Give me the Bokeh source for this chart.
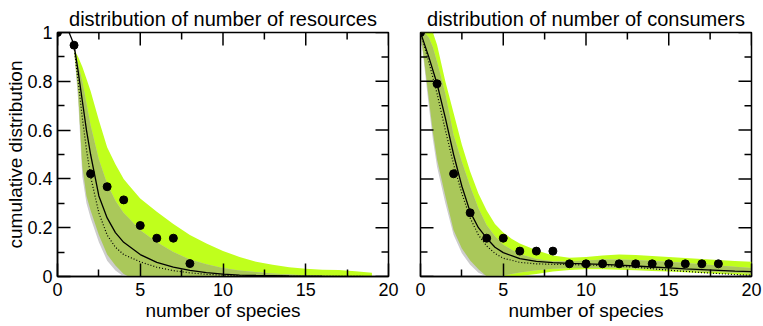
import numpy as np
from bokeh.plotting import figure
from bokeh.layouts import row
from bokeh.models import FixedTicker, Range1d
from bokeh.embed import file_html
from bokeh.resources import INLINE

# ---------------- data ----------------
titles = ["distribution of number of resources", "distribution of number of consumers"]
x_label = "number of species"
y_label = "cumulative distribution"

x_ticks = [0, 5, 10, 15, 20]
x_tick_labels = ["0", "5", "10", "15", "20"]
x_minor = [2.5, 7.5, 12.5, 17.5]
y_ticks = [0, 0.2, 0.4, 0.6, 0.8, 1.0]
y_tick_labels = ["0", "0.2", "0.4", "0.6", "0.8", "1"]
y_minor = [0.1, 0.3, 0.5, 0.7, 0.9]

# resources panel
res_pts_x = [0, 1, 2, 3, 4, 5, 6, 7, 8]
res_pts_y = [1.0, 0.948, 0.421, 0.368, 0.314, 0.209, 0.157, 0.157, 0.053]
res_band_x = [1, 1.25, 1.5, 1.75, 2, 2.5, 3, 3.5, 4, 4.3, 5, 6, 7, 8, 9, 10, 11, 12, 13, 14, 15, 16, 17, 18, 19]
res_green_hi = [0.93, 0.9, 0.86, 0.81, 0.76, 0.64, 0.53, 0.46, 0.40, 0.375, 0.32, 0.265, 0.215, 0.17, 0.135, 0.105, 0.08, 0.06, 0.048, 0.038, 0.032, 0.028, 0.027, 0.022, 0.015]
res_green_lo = [0.93, 0.75, 0.45, 0.33, 0.27, 0.17, 0.09, 0.045, 0.01, 0.0, 0, 0, 0, 0, 0, 0.002, 0.002, 0.002, 0.002, 0.002, 0.002, 0.002, 0.002, 0.002, 0.002]
res_gray_hi = [0.93, 0.87, 0.8, 0.71, 0.62, 0.48, 0.38, 0.31, 0.26, 0.24, 0.19, 0.14, 0.1, 0.07, 0.05, 0.035, 0.025, 0.018, 0.012, 0.008, 0.005, 0.003, 0.002, 0.001, 0.0]
res_gray_lo = [0.93, 0.72, 0.41, 0.3, 0.24, 0.14, 0.065, 0.025, 0.0, 0, 0, 0, 0, 0, 0, 0, 0, 0, 0, 0, 0, 0, 0, 0, 0]
res_solid_x = [0.7, 1, 1.25, 1.5, 1.75, 2, 2.5, 3, 3.5, 4, 5, 6, 7, 8, 9, 10, 11, 12, 14, 16, 19]
res_solid_y = [1.0, 0.95, 0.84, 0.72, 0.6, 0.5, 0.33, 0.24, 0.18, 0.14, 0.09, 0.058, 0.038, 0.025, 0.016, 0.01, 0.006, 0.004, 0.002, 0.001, 0.0]
res_dot_x = [1, 1.25, 1.5, 1.75, 2, 2.5, 3, 3.5, 4, 5, 6, 7, 8, 9, 10, 11, 12, 14, 19]
res_dot_y = [0.94, 0.8, 0.65, 0.52, 0.41, 0.26, 0.17, 0.12, 0.09, 0.06, 0.038, 0.024, 0.015, 0.009, 0.005, 0.003, 0.002, 0.001, 0.0]

# consumers panel
con_pts_x = [0, 1, 2, 3, 4, 5, 6, 7, 8, 9, 10, 11, 12, 13, 14, 15, 16, 17, 18]
con_pts_y = [1.0, 0.79, 0.421, 0.261, 0.157, 0.157, 0.104, 0.104, 0.104, 0.052, 0.052, 0.052, 0.052, 0.052, 0.052, 0.052, 0.052, 0.052, 0.052]
con_band_x = [0, 0.25, 0.5, 0.75, 1, 1.5, 2, 2.5, 3, 3.5, 4, 4.5, 5, 5.5, 6, 7, 8, 9, 10, 11, 12, 13, 14, 15, 16, 17, 18, 19, 20]
con_green_hi = [1.0, 1.0, 1.0, 1.0, 0.95, 0.8, 0.67, 0.54, 0.43, 0.34, 0.27, 0.215, 0.18, 0.155, 0.135, 0.108, 0.086, 0.077, 0.08, 0.086, 0.09, 0.088, 0.084, 0.08, 0.076, 0.072, 0.068, 0.064, 0.06]
con_green_lo = [1.0, 0.87, 0.73, 0.59, 0.48, 0.33, 0.19, 0.115, 0.066, 0.03, 0.0, 0, 0, 0, 0.002, 0.01, 0.02, 0.027, 0.03, 0.03, 0.028, 0.026, 0.023, 0.02, 0.017, 0.014, 0.011, 0.008, 0.005]
con_gray_hi = [1.0, 1.0, 0.98, 0.94, 0.88, 0.75, 0.58, 0.47, 0.37, 0.28, 0.21, 0.165, 0.13, 0.11, 0.092, 0.072, 0.063, 0.062, 0.066, 0.07, 0.07, 0.068, 0.064, 0.06, 0.055, 0.05, 0.045, 0.04, 0.035]
con_gray_lo = [1.0, 0.85, 0.7, 0.56, 0.45, 0.3, 0.17, 0.095, 0.048, 0.015, 0.0, 0.0, 0.004, 0.01, 0.016, 0.026, 0.032, 0.035, 0.035, 0.036, 0.035, 0.033, 0.03, 0.027, 0.024, 0.021, 0.018, 0.015, 0.012]
con_solid_x = [0, 0.5, 1, 1.5, 2, 2.5, 3, 3.5, 4, 4.5, 5, 6, 7, 8, 9, 10, 11, 12, 13, 14, 15, 16, 17, 18, 19, 20]
con_solid_y = [1.0, 0.9, 0.79, 0.65, 0.5, 0.37, 0.265, 0.2, 0.157, 0.12, 0.098, 0.073, 0.062, 0.057, 0.054, 0.052, 0.05, 0.047, 0.043, 0.039, 0.035, 0.031, 0.028, 0.025, 0.022, 0.02]
con_dot_x = [0, 0.5, 1, 1.5, 2, 2.5, 3, 3.5, 4, 4.5, 5, 6, 7, 8, 9, 10, 11, 12, 13, 14, 15, 16, 17, 18, 19, 20]
con_dot_y = [1.0, 0.88, 0.75, 0.6, 0.46, 0.34, 0.24, 0.17, 0.125, 0.095, 0.075, 0.058, 0.052, 0.05, 0.049, 0.047, 0.045, 0.042, 0.038, 0.032, 0.026, 0.021, 0.016, 0.012, 0.008, 0.005]

# ---------------- style ----------------
FONT = "Liberation Sans"
GREEN = "#c0ff1c"
OLIVE = "#aac85a"
GRAY = "#cdcdcd"
FRAME_W, FRAME_H = 331, 244
X0, X1, Y0, Y1 = 0, 20, 0, 1


def style_axis(ax, ticks, minor, labels):
    ax.ticker = FixedTicker(ticks=ticks, minor_ticks=minor)
    ax.major_label_overrides = dict(zip(ticks, labels))
    ax.major_tick_in = 13
    ax.major_tick_out = 0
    ax.minor_tick_in = 7
    ax.minor_tick_out = 0
    ax.major_tick_line_width = 1.5
    ax.minor_tick_line_width = 1.5
    ax.axis_line_width = 1.5
    ax.major_tick_line_color = "black"
    ax.minor_tick_line_color = "black"
    ax.axis_line_color = "black"
    ax.major_label_text_font = FONT
    ax.major_label_text_color = "black"
    ax.major_label_text_font_size = "18px"
    ax.axis_label_text_font = FONT
    ax.axis_label_text_font_size = "19px"
    ax.axis_label_text_font_style = "normal"
    ax.axis_label_text_color = "black"


def inner_ticks(p, xs, ys, angle, length):
    p.ray(x=xs, y=ys, length=length, length_units="screen", angle=angle,
          line_color="black", line_width=1.5)


def make_panel(title, bx, ghi, glo, yhi, ylo, sx, sy, dx, dy, px, py, left_panel):
    if left_panel:
        bl, br = 57, 16
    else:
        bl, br = 16, 12
    p = figure(frame_width=FRAME_W, frame_height=FRAME_H,
               x_range=Range1d(X0, X1), y_range=Range1d(Y0, Y1),
               output_backend="svg", toolbar_location=None,
               min_border_left=bl, min_border_right=br, min_border_top=32, min_border_bottom=50)
    p.grid.visible = False
    p.outline_line_color = "black"
    p.outline_line_width = 1.5
    p.background_fill_color = "white"
    p.border_fill_color = "white"

    p.title.text = title
    p.title.align = "center"
    p.title.text_font = FONT
    p.title.text_font_size = "20px"
    p.title.text_font_style = "normal"
    p.title.text_color = "black"
    p.title.standoff = 6

    bx = np.array(bx)
    ghi, glo, yhi, ylo = map(np.array, (ghi, glo, yhi, ylo))
    olive_lo = np.maximum(glo, ylo)
    olive_hi = np.maximum(np.minimum(ghi, yhi), olive_lo)

    p.varea(x=bx, y1=glo, y2=ghi, fill_color=GREEN)
    p.varea(x=bx, y1=ylo, y2=yhi, fill_color=GRAY)
    p.varea(x=bx, y1=olive_lo, y2=olive_hi, fill_color=OLIVE)

    p.line(dx, dy, line_color="black", line_width=1.2, line_dash="1 2")
    p.line(sx, sy, line_color="black", line_width=1.3)
    p.scatter(px, py, size=8, color="black")

    # bottom axis with labels
    style_axis(p.xaxis[0], x_ticks, x_minor, x_tick_labels)
    p.xaxis[0].major_label_standoff = 6
    p.xaxis[0].axis_label = x_label
    p.xaxis[0].axis_label_standoff = 1

    # left axis
    if left_panel:
        style_axis(p.yaxis[0], y_ticks, y_minor, y_tick_labels)
        p.yaxis[0].major_label_standoff = 5
        p.yaxis[0].axis_label = y_label
        p.yaxis[0].axis_label_standoff = -2
    else:
        p.yaxis.visible = False
        inner_ticks(p, [X0] * len(y_ticks), y_ticks, 0.0, 13)
        inner_ticks(p, [X0] * len(y_minor), y_minor, 0.0, 7)

    # mirrored ticks on top and right
    inner_ticks(p, x_ticks, [Y1] * len(x_ticks), -np.pi / 2, 13)
    inner_ticks(p, x_minor, [Y1] * len(x_minor), -np.pi / 2, 7)
    inner_ticks(p, [X1] * len(y_ticks), y_ticks, np.pi, 13)
    inner_ticks(p, [X1] * len(y_minor), y_minor, np.pi, 7)
    return p


p1 = make_panel(titles[0], res_band_x, res_green_hi, res_green_lo, res_gray_hi, res_gray_lo,
                res_solid_x, res_solid_y, res_dot_x, res_dot_y, res_pts_x, res_pts_y, True)
p2 = make_panel(titles[1], con_band_x, con_green_hi, con_green_lo, con_gray_hi, con_gray_lo,
                con_solid_x, con_solid_y, con_dot_x, con_dot_y, con_pts_x, con_pts_y, False)

layout = row(p1, p2, spacing=0)
open("out.html", "w").write(file_html(layout, INLINE))
